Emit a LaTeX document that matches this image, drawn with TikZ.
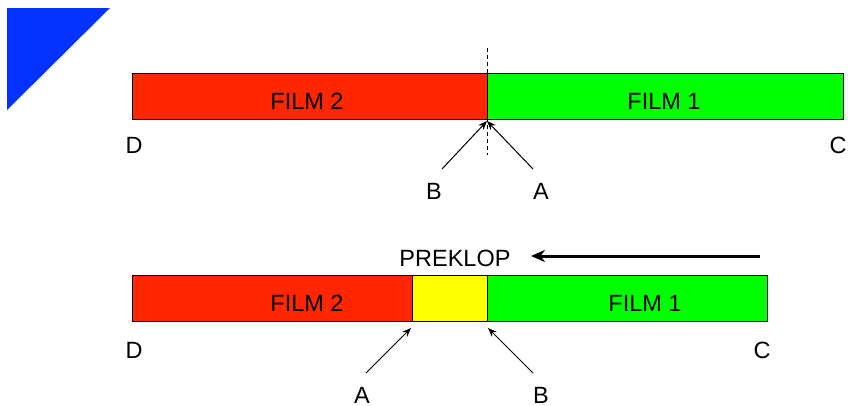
\documentclass[tikz,border=0pt]{standalone}
\usepackage{fontspec}
\setmainfont{Liberation Sans}
\usetikzlibrary{arrows.meta}
\definecolor{filmred}{HTML}{FF2600}
\definecolor{filmgreen}{HTML}{00FF00}
\definecolor{filmyellow}{HTML}{FFFF00}
\definecolor{cornerblue}{HTML}{0433FF}
\tikzset{
  seg/.style={draw=black, line width=1pt, minimum height=46pt, inner sep=0pt, anchor=north west},
  lbl/.style={font=\fontsize{23.5}{28}\selectfont, inner sep=0pt},
  ptr/.style={line width=1pt, -{Stealth[length=9pt,width=7pt]}},
  big/.style={line width=3pt, -{Stealth[length=14pt,width=12pt]}}
}
\begin{document}
\begin{tikzpicture}[x=1pt,y=-1pt]
\useasboundingbox (0,0) rectangle (848,405);
% blue corner
\fill[cornerblue] (7,8) -- (110,8) -- (7,110) -- cycle;
% top bar
\node[seg, fill=filmred, minimum width=355pt] (r1) at (132,73) {};
\node[seg, fill=filmgreen, minimum width=356pt] (g1) at (487,73) {};
\node[lbl] (f2a) at (307,101) {FILM 2};
\node[lbl] (f1a) at (664,101) {FILM 1};
\coordinate (dtop) at (487,48);
\coordinate (dbot) at (487,155);
\draw[dashed, line width=0.8pt, dash pattern=on 4pt off 3pt] (dtop) -- (dbot);
\node[lbl] (D1) at (134,145) {D};
\node[lbl] (C1) at (838,145) {C};
\node[lbl] (B1) at (434,191) {B};
\node[lbl] (A1) at (541,191) {A};
\coordinate (m1) at (487,121);
\coordinate (sb1) at (442,169);
\coordinate (sa1) at (533,169);
\draw[ptr] (sb1) -- (m1);
\draw[ptr] (sa1) -- (m1);
% bottom bar
\node[seg, fill=filmred, minimum width=280pt] (r2) at (132,275) {};
\node[seg, fill=filmyellow, minimum width=75pt] (y2) at (412,275) {};
\node[seg, fill=filmgreen, minimum width=280pt] (g2) at (487,275) {};
\node[lbl] (f2b) at (307,303) {FILM 2};
\node[lbl] (f1b) at (645,303) {FILM 1};
\node[lbl] (pk) at (455,258) {PREKLOP};
\coordinate (bs) at (760,256);
\coordinate (be) at (531,256);
\draw[big] (bs) -- (be);
\node[lbl] (D2) at (134,350) {D};
\node[lbl] (C2) at (762,350) {C};
\node[lbl, anchor=base] (A2) at (362,403) {A};
\node[lbl, anchor=base] (B2) at (541,403) {B};
\coordinate (sa2) at (366,373);
\coordinate (ea2) at (411,328);
\coordinate (sb2) at (533,373);
\coordinate (eb2) at (488,328);
\draw[ptr] (sa2) -- (ea2);
\draw[ptr] (sb2) -- (eb2);
\end{tikzpicture}
\end{document}
